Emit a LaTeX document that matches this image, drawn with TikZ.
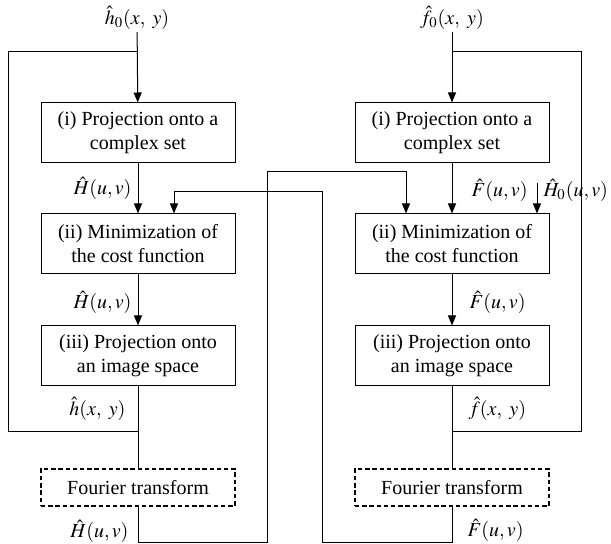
\documentclass[tikz,border=0pt]{standalone}
\usepackage{mathptmx}
\usepackage{fontspec}
\setmainfont{Liberation Serif}
\usetikzlibrary{arrows.meta,positioning,calc}

\begin{document}
\begin{tikzpicture}[x=0.5pt, y=-0.5pt, line width=0.5pt, >={Triangle[length=5pt,width=4pt]},
proc node/.style={rectangle,draw,minimum width=97pt,minimum height=30pt,align=center,inner sep=2pt},
fft node/.style={rectangle,draw,dash pattern=on 2.2pt off 1.4pt,line width=0.8pt,minimum width=97pt,minimum height=18.5pt,inner sep=2pt},
lbl node/.style={inner sep=1pt}]
\useasboundingbox (0,0) rectangle (611,544);
% left column: h
\node[lbl node] (h0) at (137,18) {$\hat{h}_0(x,\ y)$};
\node[proc node] (L1) at (138,133) {(i) Projection onto a\\ complex set};
\node[proc node] (L2) at (138,244) {(ii) Minimization of\\ the cost function};
\node[proc node] (L3) at (138,356) {(iii) Projection onto\\ an image space};
\node[fft node] (LF) at (138,487.5) {Fourier transform};
% right column: f
\node[lbl node] (f0) at (452,18) {$\hat{f}_0(x,\ y)$};
\node[proc node] (R1) at (452,133) {(i) Projection onto a\\ complex set};
\node[proc node] (R2) at (452,244) {(ii) Minimization of\\ the cost function};
\node[proc node] (R3) at (452,356) {(iii) Projection onto\\ an image space};
\node[fft node] (RF) at (452,487.5) {Fourier transform};
\begin{scope}[every node/.style={lbl node}]
\node[anchor=east] (lH1) at (134,188) {$\hat{H}(u,v)$};
\node[anchor=east] (lH2) at (134,302) {$\hat{H}(u,v)$};
\node[anchor=east] (lh) at (128,409) {$\hat{h}(x,\ y)$};
\node[anchor=east] (lH3) at (131,531) {$\hat{H}(u,v)$};
\node[anchor=west] (rF1) at (469,190) {$\hat{F}(u,v)$};
\node[anchor=west] (rF2) at (467,302) {$\hat{F}(u,v)$};
\node[anchor=west] (rf) at (466,409) {$\hat{f}(x,\ y)$};
\node[anchor=west] (rF3) at (465,530) {$\hat{F}(u,v)$};
\node[anchor=west] (rH0) at (541,190) {$\hat{H}_0(u,v)$};
\end{scope}
% corner points
\coordinate (lj1) at (138,52);
\coordinate (lt) at (8,52);
\coordinate (lb) at (8,432);
\coordinate (lj2) at (138,432);
\coordinate (rj1) at (452,52);
\coordinate (rt) at (581,52);
\coordinate (rb) at (581,432);
\coordinate (rj2) at (452,432);
\coordinate (lfc) at (267,543);
\coordinate (hx) at (406,172);
\coordinate (rfc) at (322,543);
\coordinate (fx) at (174,192);
\coordinate (h0a) at (537,183);
% left flow
\draw[->] (h0) -- (L1);
\draw[->] (L1) -- (L2);
\draw[->] (L2) -- (L3);
\draw (L3) -- (LF);
\draw (lj1) -- (lt) -- (lb) -- (lj2);
% right flow
\draw[->] (f0) -- (R1);
\draw[->] (R1) -- (R2);
\draw[->] (R2) -- (R3);
\draw (R3) -- (RF);
\draw (rj1) -- (rt) -- (rb) -- (rj2);
% crossing
\draw[->] (LF) |- (lfc) |- (hx) -- (hx |- R2.north);
\draw[->] (RF) |- (rfc) |- (fx) -- (fx |- L2.north);
\draw[->] (h0a) -- (h0a |- R2.north);
\end{tikzpicture}
\end{document}
